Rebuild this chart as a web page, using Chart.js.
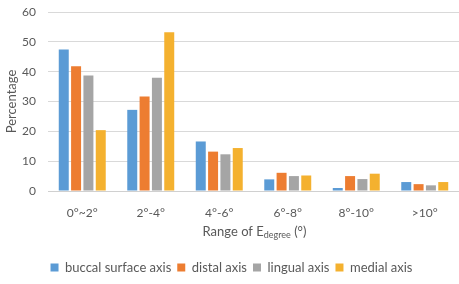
<!DOCTYPE html>
<html>
<head>
<meta charset="utf-8">
<script src="https://cdn.jsdelivr.net/npm/chart.js@4"></script>
<style>
  html, body { margin: 0; padding: 0; background: #fff; }
  #chart { display: block; }
</style>
</head>
<body>
<canvas id="chart" width="459" height="284"></canvas>
<script>
const categories = ["0°~2°", "2°-4°", "4°-6°", "6°-8°", "8°-10°", ">10°"];
const buccal = [47.4, 27.2, 16.6, 3.9, 1.0, 3.0];
const distal = [41.8, 31.7, 13.2, 6.1, 5.0, 2.3];
const lingual = [38.7, 38.0, 12.3, 5.0, 4.0, 1.9];
const medial = [20.4, 53.2, 14.4, 5.2, 5.8, 3.0];
const yTicks = [0, 10, 20, 30, 40, 50, 60];

const textColor = "#595959";
const fontFamily = "Lato, 'Open Sans', sans-serif";

// x axis title with a subscript, drawn by hand
const subTitle = {
    id: "subTitle",
    afterDraw(chart) {
        const ctx = chart.ctx;
        const area = chart.chartArea;
        const y = 232;
        const mainFont = "13px " + fontFamily;
        const subFont = "9px " + fontFamily;
        const parts = [
            { t: "Range of E", f: mainFont, dy: 0 },
            { t: "degree", f: subFont, dy: 3 },
            { t: " (°)", f: mainFont, dy: 0 }
        ];
        let total = 0;
        parts.forEach(p => { ctx.font = p.f; p.w = ctx.measureText(p.t).width; total += p.w; });
        let x = (area.left + area.right) / 2 - total / 2 + 1;
        ctx.save();
        ctx.fillStyle = textColor;
        ctx.textBaseline = "middle";
        ctx.textAlign = "left";
        parts.forEach(p => {
            ctx.font = p.f;
            ctx.fillText(p.t, x, y + p.dy);
            x += p.w;
        });
        ctx.restore();
    }
};

function makeSet(label, data, color) {
    return {
        label: label,
        data: data,
        backgroundColor: color,
        categoryPercentage: 0.72,
        barPercentage: 0.81
    };
}

new Chart(document.getElementById("chart").getContext("2d"), {
    type: "bar",
    data: {
        labels: categories,
        datasets: [
            makeSet("buccal surface axis", buccal, "#5B9BD5"),
            makeSet("distal axis", distal, "#ED7D31"),
            makeSet("lingual axis", lingual, "#A5A5A5"),
            makeSet("medial axis", medial, "#F4B12F")
        ]
    },
    options: {
        responsive: false,
        animation: false,
        layout: { padding: { top: 12, right: 0, left: 4, bottom: 0 } },
        plugins: {
            tooltip: { enabled: false },
            legend: {
                position: "bottom",
                labels: {
                    boxWidth: 8,
                    boxHeight: 8,
                    padding: 6,
                    color: textColor,
                    font: { family: fontFamily, size: 13 }
                }
            }
        },
        scales: {
            x: {
                grid: { display: false },
                border: { color: "#d0d0d0" },
                ticks: { color: textColor, font: { family: fontFamily, size: 12 }, padding: 7 },
                title: {
                    display: true,
                    text: "Range of Edegree (°)",
                    color: "transparent",
                    font: { family: fontFamily, size: 13 },
                    padding: { top: 8, bottom: 4 }
                }
            },
            y: {
                min: 0,
                max: 60,
                afterBuildTicks(scale) { scale.ticks = yTicks.map(v => ({ value: v })); },
                afterFit(scale) {
                    scale.width = 44;
                    scale.paddingTop = 0;
                    scale.paddingBottom = 0;
                },
                grid: { color: "#d9d9d9", drawTicks: false },
                border: { display: false },
                ticks: { color: textColor, font: { family: fontFamily, size: 12 }, padding: 12 },
                title: {
                    display: true,
                    text: "Percentage",
                    color: textColor,
                    font: { family: fontFamily, size: 13 },
                    padding: { top: 0, bottom: 0 }
                }
            }
        }
    },
    plugins: [subTitle]
});
</script>
</body>
</html>
